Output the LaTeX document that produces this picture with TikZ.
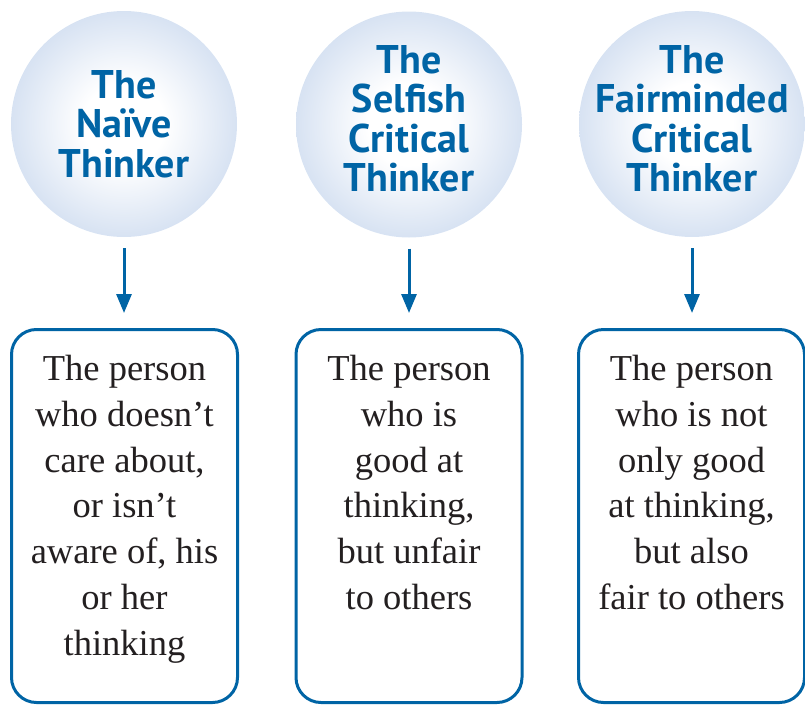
\documentclass[tikz,border=0pt]{standalone}
\usepackage{fontspec}
\setmainfont{Liberation Serif}
\newfontfamily\titlefont{PT Sans}
\usetikzlibrary{arrows.meta}
\definecolor{dblue}{RGB}{0,100,165}
\definecolor{balledge}{RGB}{140,170,213}
\definecolor{ballmid}{RGB}{198,214,237}
\definecolor{bodyink}{RGB}{35,31,32}
\pgfdeclareradialshading{ballshade}{\pgfpoint{0bp}{0bp}}{color(0bp)=(white); color(9bp)=(white); color(32bp)=(ballmid); color(50bp)=(balledge)}
\tikzset{
  ball/.style={circle, minimum size=226pt, inner sep=0pt, shading=ballshade},
  title/.style={anchor=north, align=center, inner sep=0pt, text=dblue,
    font=\titlefont\bfseries\fontsize{40}{39.5}\selectfont},
  box/.style={draw=dblue, line width=3pt, rounded corners=25pt, minimum width=226pt,
    minimum height=373pt, inner sep=0pt, fill=white},
  body/.style={anchor=north, align=center, inner sep=0pt, text=bodyink,
    font=\fontsize{36.5}{45.8}\selectfont},
  arr/.style={draw=dblue, line width=3pt, -{Triangle[width=15pt,length=19pt]},
    shorten <=11pt, shorten >=15pt}
}
\begin{document}
\begin{tikzpicture}[x=1pt, y=-1pt]
\useasboundingbox (0,0) rectangle (805,704);
% circles
\node[ball] (c1) at (124,124) {};
\node[ball] (c2) at (409,124.5) {};
\node[ball] (c3) at (692,124) {};
% titles
\node[title] (h1) at (124,70) {The\\Naïve\\Thinker};
\node[title] (h2) at (409,45) {The\\Selfish\\Critical\\Thinker};
\node[title] (h3) at (692,45) {The\\Fairminded\\Critical\\Thinker};
% boxes
\node[box] (b1) at (124.5,516) {};
\node[box] (b2) at (409,516) {};
\node[box] (b3) at (691.5,516) {};
% body texts
\node[body] (t1) at (124.5,355) {The person\\who doesn’t\\care about,\\or isn’t\\aware of, his\\or her\\thinking};
\node[body] (t2) at (409,355) {The person\\who is\\good at\\thinking,\\but unfair\\to others};
\node[body] (t3) at (691.5,355) {The person\\who is not\\only good\\at thinking,\\but also\\fair to others};
% arrows
\draw[arr] (c1.south) -- (c1.south |- b1.north);
\draw[arr] (c2.south) -- (c2.south |- b2.north);
\draw[arr] (c3.south) -- (c3.south |- b3.north);
\end{tikzpicture}
\end{document}
